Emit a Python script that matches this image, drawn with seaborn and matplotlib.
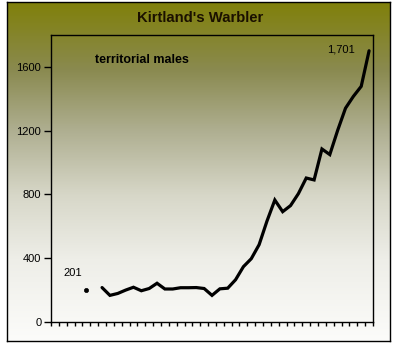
import numpy as np
import pandas as pd
import matplotlib
matplotlib.use("Agg")
import matplotlib.pyplot as plt
import seaborn as sns

# ---- data ----
years = list(range(1967, 2008))
single_year = [1971]
single_value = [201]
line_years = [1973, 1974, 1975, 1976, 1977, 1978, 1979, 1980, 1981, 1982,
              1983, 1984, 1985, 1986, 1987, 1988, 1989, 1990, 1991, 1992,
              1993, 1994, 1995, 1996, 1997, 1998, 1999, 2000, 2001, 2002,
              2003, 2004, 2005, 2006, 2007]
line_values = [216, 167, 179, 200, 218, 196, 210, 243, 207, 207,
               215, 215, 216, 210, 167, 208, 212, 265, 347, 397,
               485, 633, 765, 692, 730, 805, 903, 891, 1085, 1050,
               1202, 1341, 1415, 1478, 1701]
y_ticks = [0, 400, 800, 1200, 1600]
y_tick_labels = ["0", "400", "800", "1200", "1600"]
title = "Kirtland's Warbler"
series_label = "territorial males"

sns.set_theme(style="white")
plt.rcParams['font.family'] = ['Liberation Sans', 'DejaVu Sans']

W, H = 396, 344
fig = plt.figure(figsize=(W / 100, H / 100), dpi=100)
fig.patch.set_facecolor("white")

# background gradient panel with border
bx0, by0, bx1, by1 = 7, 2, 390, 341
bg = fig.add_axes([bx0 / W, 1 - by1 / H, (bx1 - bx0) / W, (by1 - by0) / H])
stop_y = np.array([0.0, 0.2, 0.38, 0.57, 0.76, 1.0])
stop_r = np.array([128, 138, 175, 215, 238, 252])
stop_b = np.array([10, 80, 145, 200, 232, 250])
t = np.linspace(0, 1, 340)
r = np.interp(t, stop_y, stop_r) / 255
b = np.interp(t, stop_y, stop_b) / 255
grad = np.stack([r, r, b], axis=1)
bg.imshow(grad[:, None, :], aspect="auto", extent=[0, 1, 0, 1], origin="upper")
bg.set_xticks([]); bg.set_yticks([])
for s in bg.spines.values():
    s.set_color("black"); s.set_linewidth(1.0)
bg.set_zorder(0)

# main axes
px0, py0, px1, py1 = 51, 35, 373, 322
ax = fig.add_axes([px0 / W, 1 - py1 / H, (px1 - px0) / W, (py1 - py0) / H])
ax.set_facecolor("none")
ax.set_zorder(1)

df_line = pd.DataFrame({"year": line_years, "value": line_values})
df_pt = pd.DataFrame({"year": single_year, "value": single_value})
sns.lineplot(data=df_line, x="year", y="value", ax=ax, color="black",
             linewidth=2.3, solid_joinstyle="miter")
sns.scatterplot(data=df_pt, x="year", y="value", ax=ax, color="black",
                s=9, edgecolor="black", linewidth=0.5)

ax.set_xlim(years[0] - 0.5, years[-1] + 0.5)
ax.set_ylim(0, 1800)
ax.set_xticks([y - 0.5 for y in years] + [years[-1] + 0.5])
ax.set_xticklabels([])
ax.set_yticks(y_ticks)
ax.set_yticklabels(y_tick_labels)
ax.set_xlabel(""); ax.set_ylabel("")
ax.tick_params(axis="x", direction="out", length=3, width=1, color="black", bottom=True)
ax.tick_params(axis="y", direction="out", length=5, width=1, color="black",
               left=True, labelsize=8, pad=2, labelcolor="black")
for s in ax.spines.values():
    s.set_visible(True); s.set_color("black"); s.set_linewidth(1.0)

# data labels
ax.annotate(f"{single_value[0]}", (single_year[0], single_value[0]),
            xytext=(-10, 12), textcoords="offset points", ha="center",
            va="center", fontsize=8, color="black")
ax.annotate(f"{line_values[-1]:,}", (line_years[-1], line_values[-1]),
            xytext=(-10, 1), textcoords="offset points", ha="right",
            va="center", fontsize=8, color="black")

fig.text(95 / W, 1 - 60 / H, series_label, fontsize=9, fontweight="bold",
         ha="left", va="center", color="black")
fig.text(200 / W, 1 - 18 / H, title, fontsize=10.7, fontweight="bold",
         ha="center", va="center", color="#1a1000")

fig.savefig("out.png", dpi=100)
